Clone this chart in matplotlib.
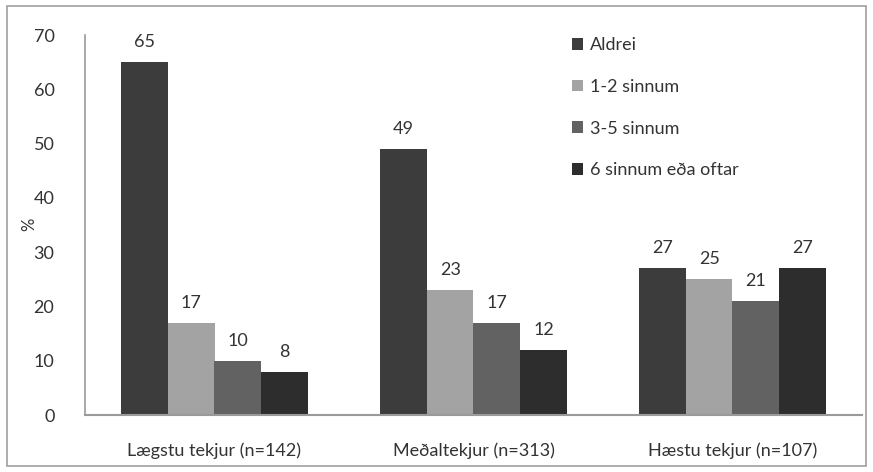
import matplotlib
matplotlib.use("Agg")
import matplotlib.pyplot as plt
import numpy as np
from matplotlib.patches import Rectangle

plt.rcParams['font.family'] = ['Lato', 'DejaVu Sans']

categories = ["Lægstu tekjur (n=142)", "Meðaltekjur (n=313)", "Hæstu tekjur (n=107)"]
series_names = ["Aldrei", "1-2 sinnum", "3-5 sinnum", "6 sinnum eða oftar"]
values = {
    "Aldrei": [65, 49, 27],
    "1-2 sinnum": [17, 23, 25],
    "3-5 sinnum": [10, 17, 21],
    "6 sinnum eða oftar": [8, 12, 27],
}
colors = ["#3c3c3c", "#a3a3a3", "#626262", "#2d2d2d"]
yticks = [0, 10, 20, 30, 40, 50, 60, 70]

fig = plt.figure(figsize=(8.73, 4.72), dpi=100)
ax = fig.add_axes([85/873, 1-415/472, (862-85)/873, (415-35)/472])

x = np.arange(len(categories))
group_w = 0.72
bw = group_w / len(series_names)
for i, (name, c) in enumerate(zip(series_names, colors)):
    offs = -group_w/2 + bw*(i+0.5)
    bars = ax.bar(x + offs, values[name], bw, color=c, label=name, edgecolor='none')
    for b, v in zip(bars, values[name]):
        ax.text(b.get_x() + b.get_width()/2, v + 2.2, str(v), ha='center', va='bottom',
                fontsize=13, color='#333333')

ax.set_xlim(-0.5, 2.5)
ax.set_ylim(0, 70)
ax.set_yticks(yticks)
ax.set_xticks(x)
ax.set_xticklabels(categories, fontsize=13, color='#333333')
ax.tick_params(axis='y', length=0, pad=22, labelsize=13, labelcolor='#333333')
ax.tick_params(axis='x', length=0, pad=20)
for s in ['top', 'right']:
    ax.spines[s].set_visible(False)
ax.spines['left'].set_color('#9a9a9a')
ax.spines['bottom'].set_color('#9a9a9a')
ax.spines['left'].set_linewidth(1.2)
ax.spines['bottom'].set_linewidth(1.5)

fig.text(29/873, 1-224/472, "%", rotation=90, ha='center', va='center', fontsize=12, color='#333333')

ax.legend(loc='upper left', bbox_to_anchor=(556/873, 1-21/472), bbox_transform=fig.transFigure,
          frameon=False, fontsize=13, handlelength=0.6, handleheight=0.6, handletextpad=0.4,
          labelspacing=1.42, labelcolor='#333333')

fig.patches.append(Rectangle((7/873, 6/472), (866-7)/873, (466-6)/472, transform=fig.transFigure,
                             fill=False, edgecolor='#a0a0a0', linewidth=1.2))

fig.savefig("out.png", dpi=100)
